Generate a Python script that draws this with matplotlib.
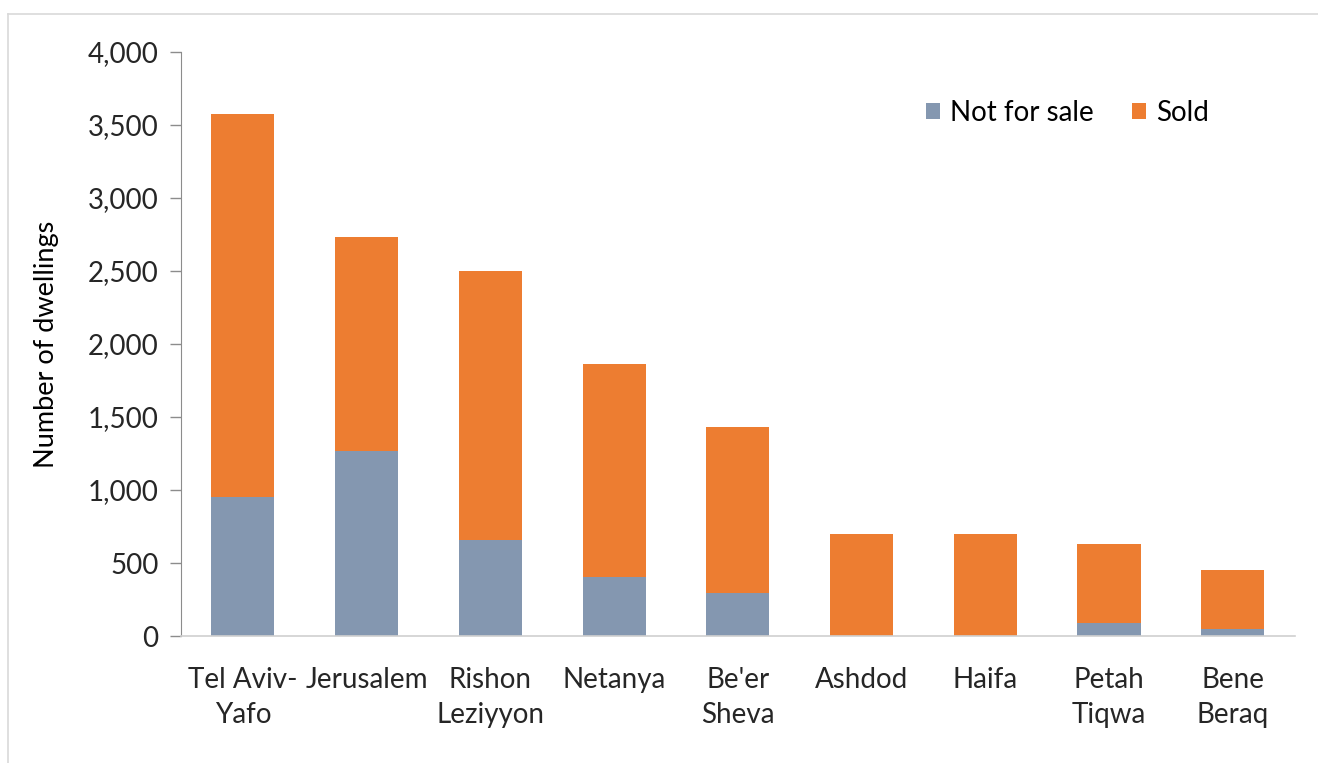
import matplotlib
matplotlib.use("Agg")
import matplotlib.pyplot as plt
from matplotlib.ticker import FuncFormatter
from matplotlib.lines import Line2D
import numpy as np

plt.rcParams['font.family'] = ['Lato', 'DejaVu Sans']

categories = ["Tel Aviv-\nYafo", "Jerusalem", "Rishon\nLeziyyon", "Netanya", "Be'er\nSheva",
              "Ashdod", "Haifa", "Petah\nTiqwa", "Bene\nBeraq"]
not_for_sale = [955, 1265, 655, 405, 295, 0, 0, 90, 45]
sold_total = [3575, 2735, 2500, 1860, 1430, 700, 700, 630, 455]
sold = [t - n for t, n in zip(sold_total, not_for_sale)]

c_nfs = "#8497b0"
c_sold = "#ed7d31"

fig = plt.figure(figsize=(13.18, 7.63), dpi=100)
ax = fig.add_axes([0.1373, 0.1664, 0.845, 0.7654])

x = np.arange(len(categories))
w = 0.51
ax.bar(x, not_for_sale, w, color=c_nfs, label="Not for sale", zorder=2)
ax.bar(x, sold, w, bottom=not_for_sale, color=c_sold, label="Sold", zorder=2)

ax.set_xlim(-0.5, len(categories) - 0.5)
ax.set_ylim(0, 4000)
ax.set_yticks(np.arange(0, 4001, 500))
ax.yaxis.set_major_formatter(FuncFormatter(lambda v, p: f"{int(v):,}"))
ax.set_xticks(x)
ax.set_xticklabels(categories, fontsize=20, color="#262626", linespacing=1.45)
ax.tick_params(axis='x', length=0, pad=22)
ax.tick_params(axis='y', labelsize=20, labelcolor="#262626", length=8, width=1,
               color="#8c8c8c", pad=8, direction='out')
for s in ['top', 'right']:
    ax.spines[s].set_visible(False)
ax.spines['left'].set_color("#8c8c8c")
ax.spines['bottom'].set_color("#d0d0d0")
ax.spines['bottom'].set_linewidth(1.2)

ax.set_ylabel("Number of dwellings", fontsize=19.5, color="#000000", labelpad=21)

leg = ax.legend(loc='center right', bbox_to_anchor=(0.923, 0.8955), ncol=2, frameon=False,
                fontsize=20, handlelength=0.5, handleheight=0.5, handletextpad=0.35,
                columnspacing=1.4, borderpad=0, borderaxespad=0)

# figure border (top and left visible)
fig.add_artist(Line2D([8/1318, 1], [1 - 14/763, 1 - 14/763], transform=fig.transFigure,
                      color="#d9d9d9", lw=1.2))
fig.add_artist(Line2D([8/1318, 8/1318], [0, 1 - 14/763], transform=fig.transFigure,
                      color="#d9d9d9", lw=1.2))

fig.savefig("out.png", dpi=100)
